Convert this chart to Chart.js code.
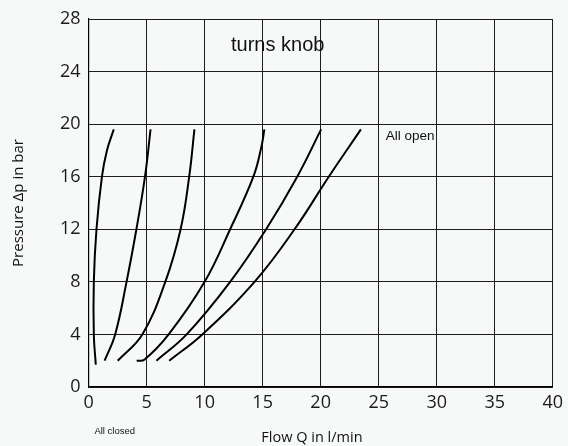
<!DOCTYPE html>
<html>
<head>
<meta charset="utf-8">
<script src="https://cdn.jsdelivr.net/npm/chart.js@4"></script>
<style>
  html, body { margin: 0; padding: 0; background: #f7f9f9; }
  #wrap { width: 568px; height: 446px; }
</style>
</head>
<body>
<div id="wrap"><canvas id="chart" width="568" height="446"></canvas></div>
<script>
// Axis ticks
const flowTicks = [0, 5, 10, 15, 20, 25, 30, 35, 40];
const pressureTicks = [0, 4, 8, 12, 16, 20, 24, 28];

// Curves, from "All closed" (left) to "All open" (right)
const flow1 = [0.62, 0.45, 0.45, 0.68, 1.15, 1.58, 2.17];
const pres1 = [1.7, 4, 8, 12, 16, 18, 19.6];
const flow2 = [1.38, 2.29, 3.27, 4.12, 4.86, 5.34];
const pres2 = [2, 4, 8, 12, 16, 19.6];
const flow3 = [2.51, 4.63, 6.61, 7.93, 8.67, 9.12];
const pres3 = [2, 4, 8, 12, 16, 19.6];
const flow4 = [4.14, 4.8, 6.9, 10.0, 12.2, 14.2, 14.9, 15.15];
const pres4 = [2, 2.07, 4, 8, 12, 16, 18.3, 19.6];
const flow5 = [5.85, 8.45, 12.2, 15.3, 17.98, 20.04];
const pres5 = [2, 4, 8, 12, 16, 19.6];
const flow6 = [6.95, 9.8, 14.3, 17.75, 20.7, 23.47];
const pres6 = [2, 4, 8, 12, 16, 19.6];

const curves = [
    [flow1, pres1], [flow2, pres2], [flow3, pres3],
    [flow4, pres4], [flow5, pres5], [flow6, pres6]
];

// Labels drawn on the chart
const notes = [
    { text: "turns knob", x: 16.3, y: 25.95, font: "20px 'Liberation Sans', Arial, sans-serif" },
    { text: "All open", x: 25.6, y: 19.1, font: "13.5px 'Liberation Sans', Arial, sans-serif", align: "left" },
    { text: "All closed", x: 2.25, y: -3.4, font: "9.5px 'Liberation Sans', Arial, sans-serif" },
    { text: "Flow Q in l/min", x: 19.25, y: -3.9, font: "14.5px 'Open Sans', sans-serif" }
];

const tickFont = { family: "'Open Sans', sans-serif", size: 18 };
const gridColor = "#1e1e1e";

// Draw free text labels in data coordinates
const notesPlugin = {
    id: "notes",
    afterDatasetsDraw(chart) {
        const ctx = chart.ctx;
        const xs = chart.scales.x, ys = chart.scales.y;
        ctx.save();
        ctx.fillStyle = "#111";
        ctx.textBaseline = "middle";
        notes.forEach(n => {
            ctx.font = n.font;
            ctx.textAlign = n.align || "center";
            ctx.fillText(n.text, xs.getPixelForValue(n.x), ys.getPixelForValue(n.y));
        });
        ctx.restore();
    }
};

new Chart(document.getElementById("chart"), {
    type: "scatter",
    data: {
        datasets: curves.map(c => ({
            data: c[0].map((q, i) => ({ x: q, y: c[1][i] })),
            showLine: true,
            borderColor: "#000",
            borderWidth: 2,
            pointRadius: 0,
            tension: 0.4,
            fill: false
        }))
    },
    options: {
        responsive: false,
        animation: false,
        layout: { padding: { left: 0, right: 13, top: 19, bottom: 0 } },
        plugins: { legend: { display: false }, tooltip: { enabled: false } },
        scales: {
            x: {
                type: "linear",
                min: 0,
                max: 40,
                afterBuildTicks: s => { s.ticks = flowTicks.map(v => ({ value: v })); },
                afterFit: s => { s.height = 59; },
                grid: { color: gridColor, lineWidth: 1, drawTicks: false },
                border: { color: "#000", width: 1.2 },
                ticks: { font: tickFont, color: "#1a1a1a", padding: 5, maxRotation: 0 }
            },
            y: {
                type: "linear",
                min: 0,
                max: 28,
                afterBuildTicks: s => { s.ticks = pressureTicks.map(v => ({ value: v })); },
                afterFit: s => { s.width = 88.6; },
                grid: { color: gridColor, lineWidth: 1, drawTicks: false },
                border: { color: "#000", width: 1.2 },
                ticks: { font: tickFont, color: "#1a1a1a", padding: 8 },
                title: {
                    display: true,
                    text: "Pressure Δp in bar",
                    font: { family: "'Open Sans', sans-serif", size: 15 },
                    color: "#111",
                    padding: { top: 10, bottom: 0 }
                }
            }
        }
    },
    plugins: [notesPlugin]
});
</script>
</body>
</html>
